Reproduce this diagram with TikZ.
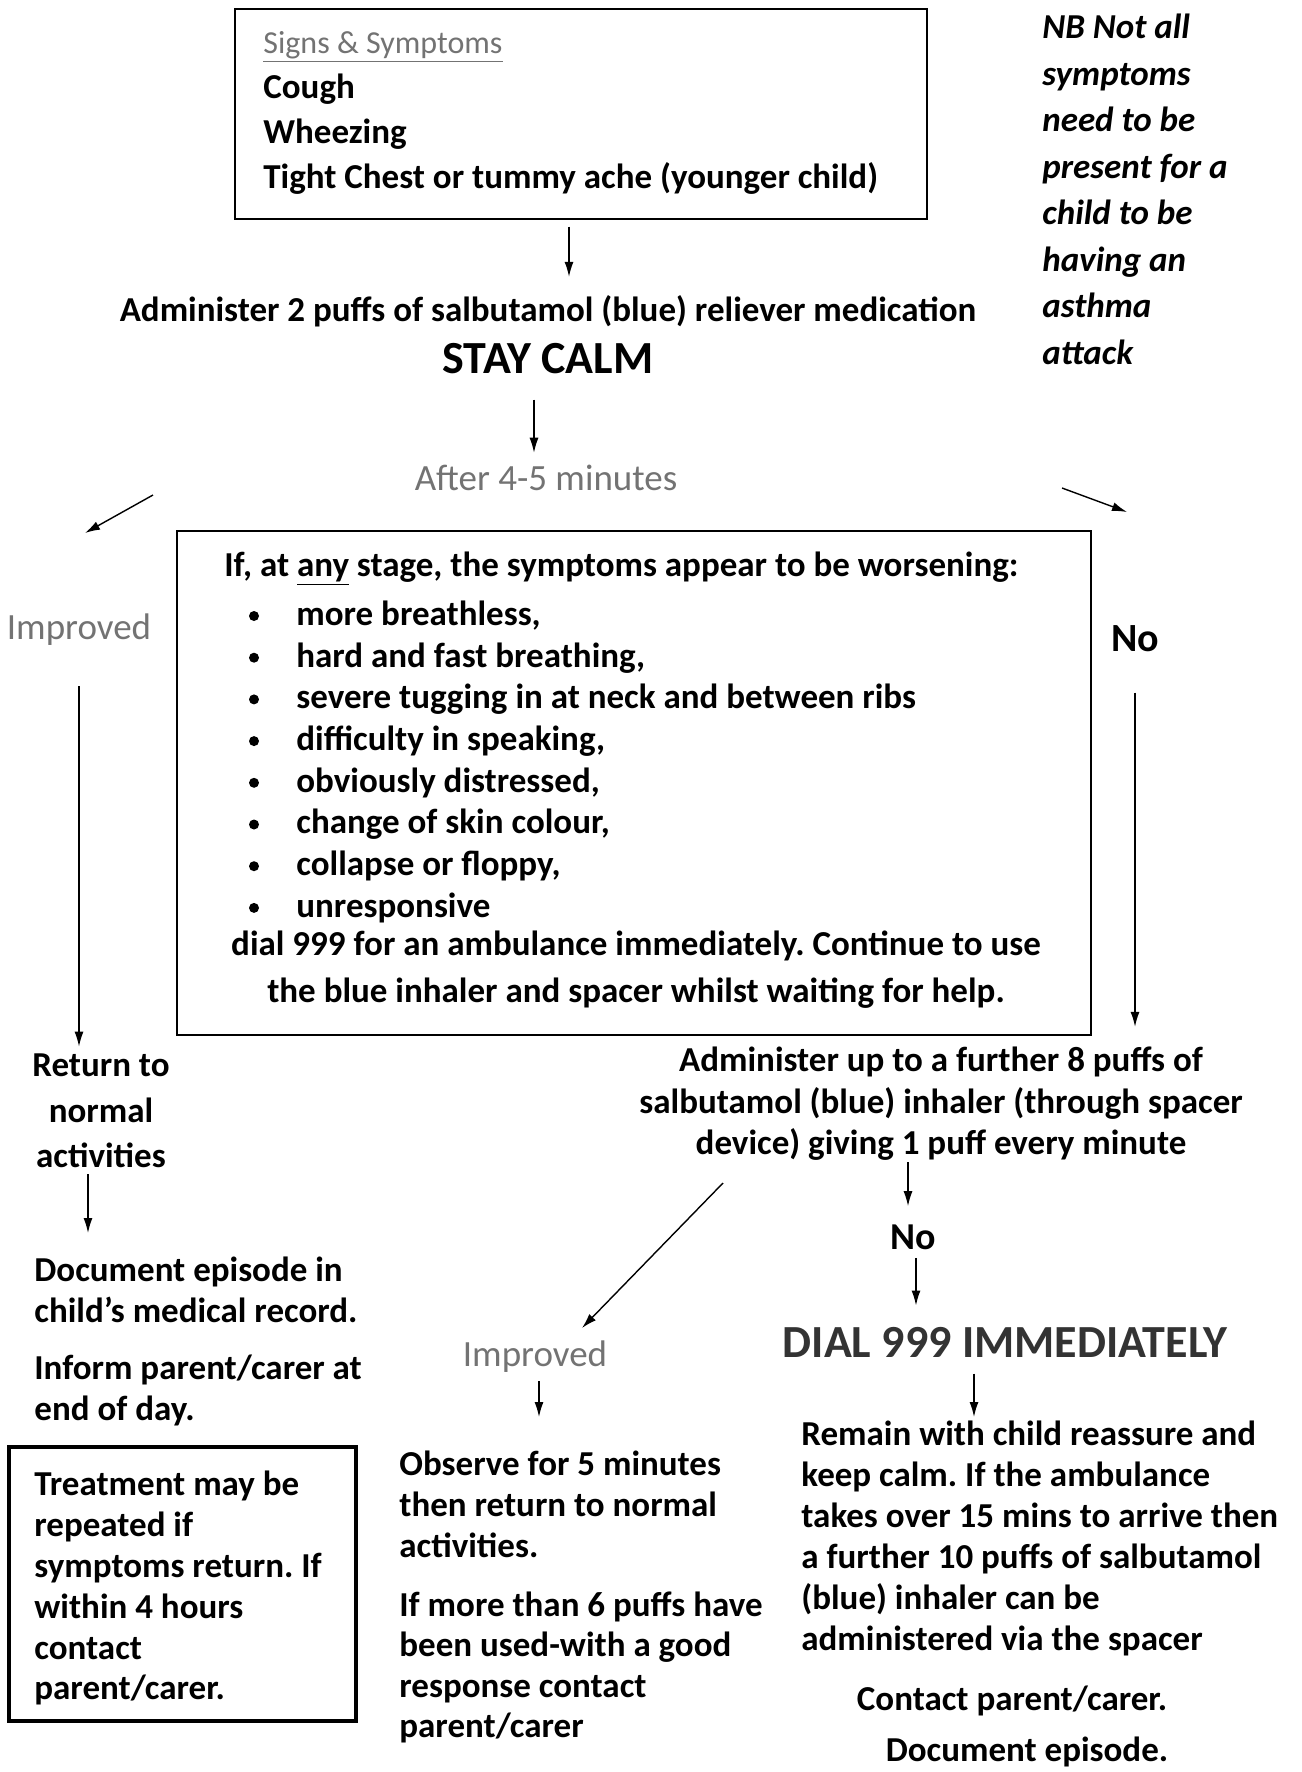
\documentclass[tikz,border=0pt]{standalone}
\usepackage{fontspec}
\setmainfont{Carlito}
\frenchspacing
\usetikzlibrary{arrows.meta,fit}

\tikzset{
  txt/.style={inner sep=0pt, align=left, font=\fontsize{17.5}{20.5}\selectfont\bfseries},
  pale/.style={inner sep=0pt, text=black!55, font=\fontsize{18.5}{20}\selectfont},
  big/.style={inner sep=0pt, font=\fontsize{23}{26}\selectfont\bfseries},
  arr/.style={-{Latex[length=7.5pt,width=4.5pt]}, line width=0.7pt},
}

\begin{document}
\begin{tikzpicture}[x=0.5pt,y=-0.5pt]
%%%%% START %%%%%
\useasboundingbox (0,0) rectangle (1301,1772);

% signs and symptoms
\node (sym) [draw, line width=0.7pt, inner sep=0pt, fit={(235,9) (927,219)}] {};
\node (symtxt) [txt, anchor=north west, font=\fontsize{17.5}{22.5}\selectfont\bfseries] at (263,31)
  {{\fontsize{16}{20}\selectfont\mdseries\color{black!55}\underline{Signs \& Symptoms}}\\Cough\\Wheezing\\Tight Chest or tummy ache (younger child)};

\node (nb) [txt, anchor=north west, font=\fontsize{17.5}{23.25}\selectfont\bfseries\itshape] at (1042,14)
  {NB Not all\\symptoms\\need to be\\present for a\\child to be\\having an\\asthma\\attack};

\node (admin) [txt] at (548,311) {Administer 2 puffs of salbutamol (blue) reliever medication};
\node (calm) [big] at (548,359) {STAY CALM};
\node (after) [pale] at (546,478) {After 4-5 minutes};

% worsening box
\node (worse) [draw, line width=0.9pt, inner sep=0pt, fit={(177,531) (1091,1035)}] {};
\node (head) [txt, anchor=west] at (224,569) {If, at \underline{any} stage, the symptoms appear to be worsening:};
\foreach \t [count=\i] in {{more breathless,},{hard and fast breathing,},{severe tugging in at neck and between ribs},{difficulty in speaking,},{obviously distressed,},{change of skin colour,},{collapse or floppy,},{unresponsive}}{
  \fill (254,{616+41.7*(\i-1)}) circle (5);
  \node (item\i) [txt, anchor=west] at (296,{616+41.7*(\i-1)}) {\t};
}
\node (dial999) [txt, align=center, font=\fontsize{17.5}{23.5}\selectfont\bfseries] at (636,970)
  {dial 999 for an ambulance immediately. Continue to use\\the blue inhaler and spacer whilst waiting for help.};

\node (impl) [pale] at (79,630) {Improved};
\node (nor) [big, font=\fontsize{20}{24}\selectfont\bfseries] at (1135,639) {No};

% left column
\node (ret) [txt, align=center, font=\fontsize{17.5}{22.75}\selectfont\bfseries] at (101,1111) {Return to\\normal\\activities};
\node (docu) [txt, anchor=north west] at (34,1257) {Document episode in\\child's medical record.};
\node (inform) [txt, anchor=north west] at (34,1355) {Inform parent/carer at\\end of day.};
\node (treatbox) [draw, line width=1.6pt, inner sep=0pt, fit={(9,1447) (356,1721)}] {};
\node (treat) [txt, anchor=north west, font=\fontsize{17.5}{20.4}\selectfont\bfseries] at (34,1471)
  {Treatment may be\\repeated if\\symptoms return. If\\within 4 hours\\contact\\parent/carer.};

% right branch
\node (more) [txt, align=center, font=\fontsize{17.5}{20.75}\selectfont\bfseries] at (941,1104)
  {Administer up to a further 8 puffs of\\salbutamol (blue) inhaler (through spacer\\device) giving 1 puff every minute};
\node (no2) [big, font=\fontsize{19}{22}\selectfont\bfseries] at (913,1237) {No};
\node (dial) [big, text=black!80] at (1005,1342) {DIAL 999 IMMEDIATELY};
\node (remain) [txt, anchor=north west] at (801,1421)
  {Remain with child reassure and\\keep calm. If the ambulance\\takes over 15 mins to arrive then\\a further 10 puffs of salbutamol\\(blue) inhaler can be\\administered via the spacer};
\node (contact) [txt] at (1012,1701) {Contact parent/carer.};
\node (docep) [txt] at (1027,1752) {Document episode.};

% middle branch
\node (imp2) [pale] at (535,1357) {Improved};
\node (obs) [txt, anchor=north west] at (399,1451) {Observe for 5 minutes\\then return to normal\\activities.};
\node (ifmore) [txt, anchor=north west, font=\fontsize{17.5}{20.3}\selectfont\bfseries] at (399,1591)
  {If more than 6 puffs have\\been used-with a good\\response contact\\parent/carer};

% connectors
\coordinate (al1) at (153,495);
\coordinate (al2) at (85,533);
\coordinate (ar1) at (1062,488);
\coordinate (ar2) at (1127,512);
\coordinate (ad1) at (723,1183);
\coordinate (ad2) at (582,1328);

\draw[arr, shorten <=3.5pt, shorten >=9pt] ([xshift=-6pt]sym.south) -- ([xshift=-6pt]sym.south |- admin.north);
\draw[arr, shorten <=12.5pt, shorten >=6pt] ([xshift=-7pt]calm.south) -- ([xshift=-7pt]calm.south |- after.north);
\draw[arr] (al1) -- (al2);
\draw[arr] (ar1) -- (ar2);
\draw[arr, shorten <=20pt, shorten >=3.5pt] (impl.south) -- (impl.south |- ret.north);
\draw[arr, shorten <=20pt, shorten >=10pt] (nor.south) -- (nor.south |- more.north);
\draw[arr, shorten <=3pt, shorten >=12pt] ([xshift=-6.5pt]ret.south) -- ([xshift=-6.5pt]ret.south |- docu.north);
\draw[arr, shorten <=0.5pt, shorten >=9pt] ([xshift=-2.5pt]no2.north |- more.south) -- ([xshift=-2.5pt]no2.north);
\draw[arr, shorten <=4pt, shorten >=10.5pt] ([xshift=1.5pt]no2.south) -- ([xshift=1.5pt]no2.south |- dial.north);
\draw[arr, shorten <=8pt, shorten >=2pt] ([xshift=-15.5pt]dial.south) -- ([xshift=-15.5pt]dial.south |- remain.north);
\draw[arr] (ad1) -- (ad2);
\draw[arr, shorten <=4pt, shorten >=17pt] ([xshift=2pt]imp2.south) -- ([xshift=2pt]imp2.south |- obs.north);

%%%%% END %%%%%
\end{tikzpicture}
\end{document}
